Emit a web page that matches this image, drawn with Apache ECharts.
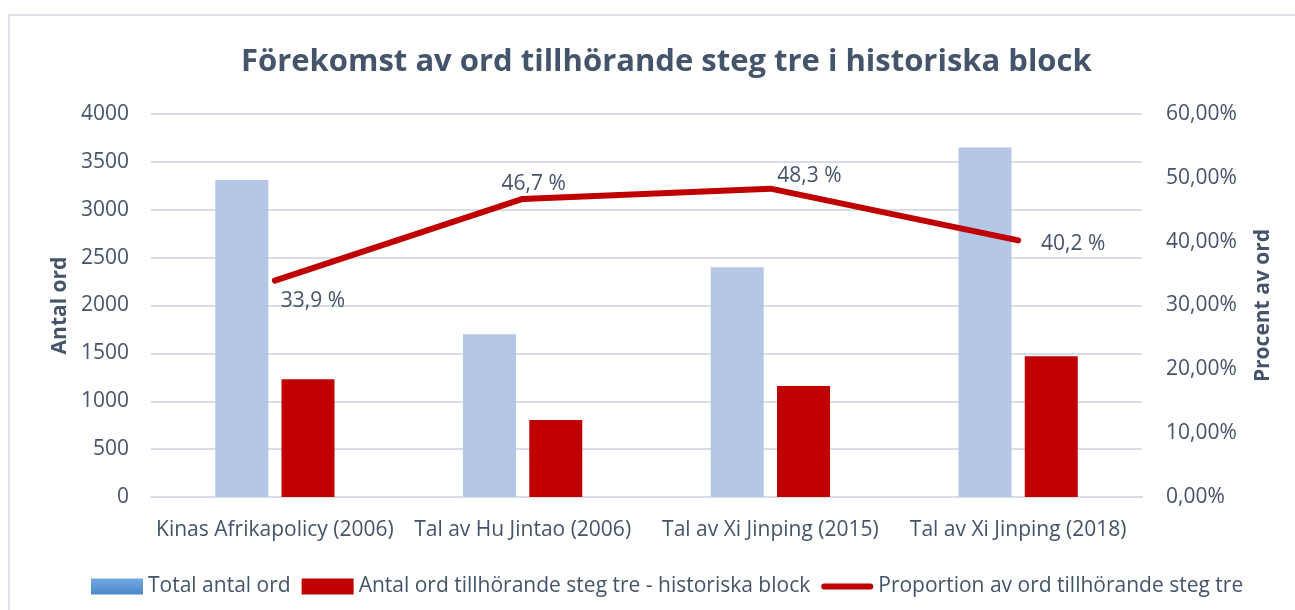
<!DOCTYPE html>
<html>
<head>
<meta charset="utf-8">
<script src="https://cdn.jsdelivr.net/npm/echarts@6/dist/echarts.min.js"></script>
<style>
  html, body { margin: 0; padding: 0; background: #fff; }
  #main { width: 1295px; height: 610px; }
</style>
</head>
<body>
<div id="main"></div>
<script>
// data
var categories = ['Kinas Afrikapolicy (2006)', 'Tal av Hu Jintao (2006)', 'Tal av Xi Jinping (2015)', 'Tal av Xi Jinping (2018)'];
var totalWords = [3310, 1700, 2400, 3650];
var stepThreeWords = [1230, 805, 1160, 1470];
var proportion = [33.9, 46.7, 48.3, 40.2];
var leftTicks = [0, 4000, 500];
var rightTicks = [0, 60, 10];

var seriesNames = ['Total antal ord', 'Antal ord tillhörande steg tre - historiska block', 'Proportion av ord tillhörande steg tre'];

var textColor = '#44546a';
var font = 'Open Sans';

// where each line label sits relative to its point
var labelOffsets = [[38, 20], [11, -15], [39, -13], [55, 4]];

var chartDom = document.getElementById('main');
var myChart = echarts.init(chartDom);

var option = {
  animation: false,
  textStyle: { fontFamily: font },
  title: {
    text: 'Förekomst av ord tillhörande steg tre i historiska block',
    left: 236,
    top: 42,
    textStyle: { fontFamily: font, fontSize: 31, fontWeight: 'bold', color: textColor }
  },
  graphic: [{
    type: 'rect',
    shape: { x: 9, y: 15, width: 1400, height: 700 },
    style: { fill: 'none', stroke: '#dfe3e9', lineWidth: 2 },
    silent: true
  }],
  legend: {
    left: 86,
    top: 571,
    itemWidth: 52,
    itemHeight: 16,
    itemGap: 11,
    textStyle: { fontFamily: font, fontSize: 21, color: textColor },
    data: [
      {
        name: seriesNames[0],
        icon: 'rect',
        itemStyle: {
          color: new echarts.graphic.LinearGradient(0, 0, 0, 1, [
            { offset: 0, color: '#72aae0' },
            { offset: 1, color: '#4a87cb' }
          ])
        }
      },
      { name: seriesNames[1], icon: 'rect' },
      { name: seriesNames[2], icon: 'path://M3,0 H49 A3,3 0 0 1 49,6 H3 A3,3 0 0 1 3,0 Z' }
    ]
  },
  grid: { left: 151, right: 153, top: 114, bottom: 113, containLabel: false },
  xAxis: {
    type: 'category',
    data: categories,
    axisLine: { show: true, lineStyle: { color: '#d9dee6', width: 2 } },
    axisTick: { show: false },
    axisLabel: { fontFamily: font, fontSize: 21, color: textColor, margin: 23, interval: 0 }
  },
  yAxis: [
    {
      type: 'value',
      min: leftTicks[0],
      max: leftTicks[1],
      interval: leftTicks[2],
      name: 'Antal ord',
      nameLocation: 'middle',
      nameRotate: 90,
      nameGap: 79,
      nameTextStyle: { fontFamily: font, fontSize: 21, fontWeight: 'bold', color: textColor },
      axisLine: { show: false },
      axisTick: { show: false },
      axisLabel: {
        fontFamily: font, fontSize: 21, color: textColor, margin: 22,
        formatter: function (v) { return String(v); }
      },
      splitLine: { lineStyle: { color: '#d9dee6', width: 2 } }
    },
    {
      type: 'value',
      min: rightTicks[0],
      max: rightTicks[1],
      interval: rightTicks[2],
      name: 'Procent av ord',
      nameLocation: 'middle',
      nameRotate: 90,
      nameGap: 111,
      nameTextStyle: { fontFamily: font, fontSize: 21, fontWeight: 'bold', color: textColor },
      axisLine: { show: false },
      axisTick: { show: false },
      axisLabel: {
        fontFamily: font, fontSize: 21, color: textColor, margin: 24,
        formatter: function (v) { return v.toFixed(2).replace('.', ',') + '%'; }
      },
      splitLine: { show: false }
    }
  ],
  series: [
    {
      name: seriesNames[0],
      type: 'bar',
      data: totalWords,
      barWidth: 53,
      barGap: '25%',
      itemStyle: { color: '#b4c7e7' }
    },
    {
      name: seriesNames[1],
      type: 'bar',
      data: stepThreeWords,
      barWidth: 53,
      itemStyle: { color: '#c00000' }
    },
    {
      name: seriesNames[2],
      type: 'line',
      yAxisIndex: 1,
      data: proportion.map(function (v, i) {
        return { value: v, label: { offset: labelOffsets[i] } };
      }),
      symbol: 'circle',
      symbolSize: 1,
      itemStyle: { color: '#c00000' },
      lineStyle: { color: '#c00000', width: 6, cap: 'round', join: 'round' },
      label: {
        show: true,
        position: 'inside',
        fontFamily: font,
        fontSize: 21,
        color: textColor,
        formatter: function (p) { return String(p.value).replace('.', ',') + ' %'; }
      }
    }
  ]
};

option && myChart.setOption(option);
</script>
</body>
</html>
